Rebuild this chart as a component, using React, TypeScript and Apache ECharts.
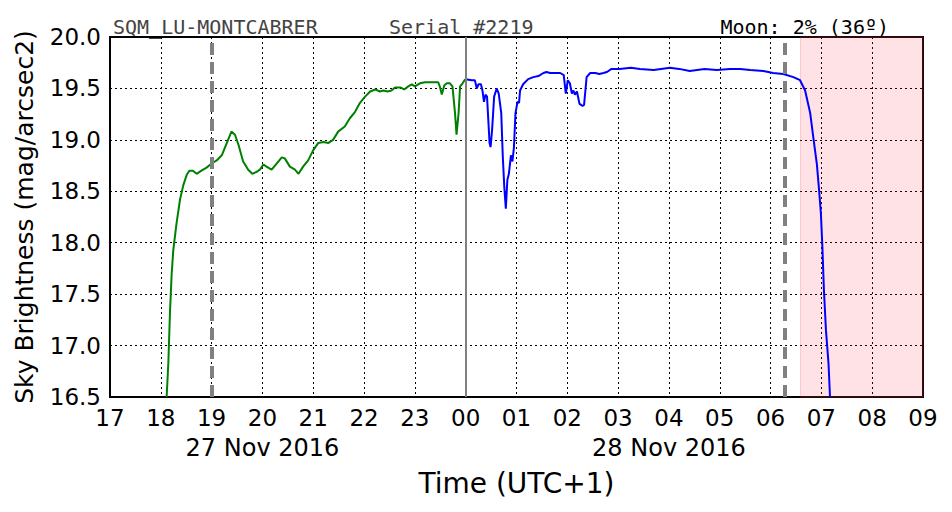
import React, { useEffect, useRef } from "react";
import * as echarts from "echarts";

// hours elapsed since 27 Nov 2016 17:00 (UTC+1)
const tickLabels = ["17","18","19","20","21","22","23","00","01","02","03","04","05","06","07","08","09"];
const dateLabels: Record<number, string> = { 3: "27 Nov 2016", 11: "28 Nov 2016" };

const greenT = [1.115,1.148,1.18,1.214,1.246,1.31,1.378,1.443,1.51,1.561,1.63,1.706,1.80,1.90,2.00,2.10,2.20,2.30,2.39,2.46,2.53,2.62,2.72,2.80,2.89,2.95,3.02,3.08,3.18,3.28,3.38,3.44,3.54,3.64,3.71,3.80,3.90,4.00,4.10,4.20,4.30,4.39,4.49,4.62,4.72,4.82,4.92,5.02,5.12,5.22,5.31,5.38,5.46,5.54,5.61,5.71,5.79,5.87,5.94,6.00,6.10,6.20,6.36,6.46,6.49,6.53,6.58,6.63,6.69,6.74,6.79,6.82,6.86,6.89,6.94,6.99];
const greenV = [16.50,16.83,17.32,17.70,17.93,18.19,18.42,18.56,18.66,18.70,18.70,18.67,18.70,18.73,18.77,18.80,18.85,18.97,19.08,19.05,18.95,18.79,18.71,18.67,18.69,18.71,18.76,18.74,18.71,18.77,18.83,18.82,18.74,18.71,18.67,18.74,18.80,18.90,18.97,18.98,18.97,19.00,19.08,19.13,19.21,19.27,19.36,19.42,19.47,19.49,19.47,19.48,19.47,19.48,19.51,19.51,19.49,19.52,19.54,19.52,19.55,19.56,19.56,19.56,19.52,19.44,19.53,19.55,19.55,19.52,19.26,19.05,19.26,19.52,19.55,19.59];

const blueT = [7.0,7.12,7.18,7.22,7.25,7.30,7.33,7.36,7.39,7.42,7.47,7.49,7.52,7.56,7.61,7.65,7.70,7.73,7.76,7.79,7.82,7.85,7.89,7.92,7.95,7.98,8.02,8.05,8.07,8.13,8.23,8.33,8.43,8.53,8.59,8.66,8.86,8.93,8.97,9.01,9.05,9.09,9.12,9.15,9.19,9.24,9.30,9.33,9.38,9.45,9.55,9.63,9.71,9.78,9.87,10.03,10.25,10.43,10.7,11.02,11.2,11.41,11.7,11.94,12.2,12.40,12.6,12.86,13.05,13.25,13.45,13.58,13.68,13.78,13.84,13.91,13.95,13.99,14.02,14.05,14.09,14.14,14.17];
const blueV = [19.59,19.58,19.58,19.50,19.54,19.54,19.48,19.37,19.44,19.42,18.97,18.93,19.10,19.42,19.50,19.45,19.26,18.84,18.54,18.33,18.61,18.67,18.85,18.79,18.93,19.26,19.37,19.36,19.48,19.54,19.59,19.61,19.62,19.65,19.66,19.65,19.65,19.63,19.45,19.58,19.55,19.45,19.48,19.44,19.47,19.35,19.33,19.34,19.61,19.65,19.65,19.64,19.65,19.66,19.69,19.69,19.70,19.69,19.68,19.70,19.69,19.67,19.69,19.68,19.69,19.69,19.68,19.67,19.65,19.64,19.61,19.58,19.48,19.26,19.03,18.77,18.54,18.29,17.96,17.54,17.15,16.83,16.50];

const twilightLines = [2.0, 13.27];
const midnightLine = 7.0;
const dayStart = 13.59;
const dayEnd = 16;

export default function App() {
  const ref = useRef<HTMLDivElement>(null);
  useEffect(() => {
    if (!ref.current) return;
    const chart = echarts.init(ref.current, null, { renderer: "svg" });
    const mono = "'DejaVu Sans Mono', monospace";
    const sans = "'DejaVu Sans', sans-serif";
    chart.setOption({
      animation: false,
      backgroundColor: "#ffffff",
      title: [
        { text: "SQM_LU-MONTCABRER", left: 108, top: 12, textStyle: { fontFamily: mono, fontSize: 20, fontWeight: "normal", color: "#444444" } },
        { text: "Serial #2219", left: 384, top: 12, textStyle: { fontFamily: mono, fontSize: 20, fontWeight: "normal", color: "#444444" } },
        { text: "Moon: 2% (36º)", right: 58, top: 12, textStyle: { fontFamily: mono, fontSize: 20, fontWeight: "normal", color: "#000000" } },
      ],
      grid: { left: 110, top: 37, right: 29, bottom: 115, show: true, borderColor: "#000", borderWidth: 2, backgroundColor: "transparent" },
      xAxis: [
        {
          type: "value", min: 0, max: 16, interval: 1,
          name: "Time (UTC+1)", nameLocation: "middle", nameGap: 72,
          nameTextStyle: { fontFamily: sans, fontSize: 28, color: "#000" },
          axisLine: { show: false }, axisTick: { show: false },
          axisLabel: { fontFamily: sans, fontSize: 23, color: "#000", margin: 9, formatter: (v: number) => tickLabels[Math.round(v)] ?? "" },
          splitLine: { show: true, lineStyle: { color: "#000", width: 1, type: [2, 3] } },
        },
        {
          type: "value", min: 0, max: 16, interval: 1, position: "bottom", offset: 31,
          axisLine: { show: false }, axisTick: { show: false }, splitLine: { show: false },
          axisLabel: { fontFamily: sans, fontSize: 24, color: "#000", margin: 8, formatter: (v: number) => dateLabels[Math.round(v)] ?? "" },
        },
      ],
      yAxis: {
        type: "value", min: 16.5, max: 20, interval: 0.5,
        name: "Sky Brightness (mag/arcsec2)", nameLocation: "middle", nameGap: 73,
        nameTextStyle: { fontFamily: sans, fontSize: 25, color: "#000" },
        axisLine: { show: false }, axisTick: { show: false },
        axisLabel: { fontFamily: sans, fontSize: 23, color: "#000", margin: 9, formatter: (v: number) => v.toFixed(1) },
        splitLine: { show: true, lineStyle: { color: "#000", width: 1, type: [2, 3] } },
      },
      series: [
        {
          type: "line", xAxisIndex: 0, data: [], z: 1, silent: true,
          markArea: {
            silent: true,
            itemStyle: { color: "rgba(255,20,40,0.12)", borderColor: "rgba(255,80,80,0.25)", borderWidth: 1 },
            data: [[{ xAxis: dayStart }, { xAxis: dayEnd }]],
          },
          markLine: {
            silent: true, symbol: "none", label: { show: false },
            data: [
              ...twilightLines.map((x) => ({ xAxis: x, lineStyle: { color: "#808080", width: 4, type: [12, 7] } })),
              { xAxis: midnightLine, lineStyle: { color: "#808080", width: 2, type: "solid" } },
            ],
          },
        },
        {
          type: "line", xAxisIndex: 0, z: 3, showSymbol: false, symbol: "none",
          data: greenT.map((t, i) => [t, greenV[i]]),
          lineStyle: { color: "#008000", width: 2 },
        },
        {
          type: "line", xAxisIndex: 0, z: 3, showSymbol: false, symbol: "none",
          data: blueT.map((t, i) => [t, blueV[i]]),
          lineStyle: { color: "#0000ff", width: 2 },
        },
      ],
    });
    return () => chart.dispose();
  }, []);
  return <div ref={ref} style={{ width: 952, height: 512, position: "absolute", left: 0, top: 0 }} />;
}
